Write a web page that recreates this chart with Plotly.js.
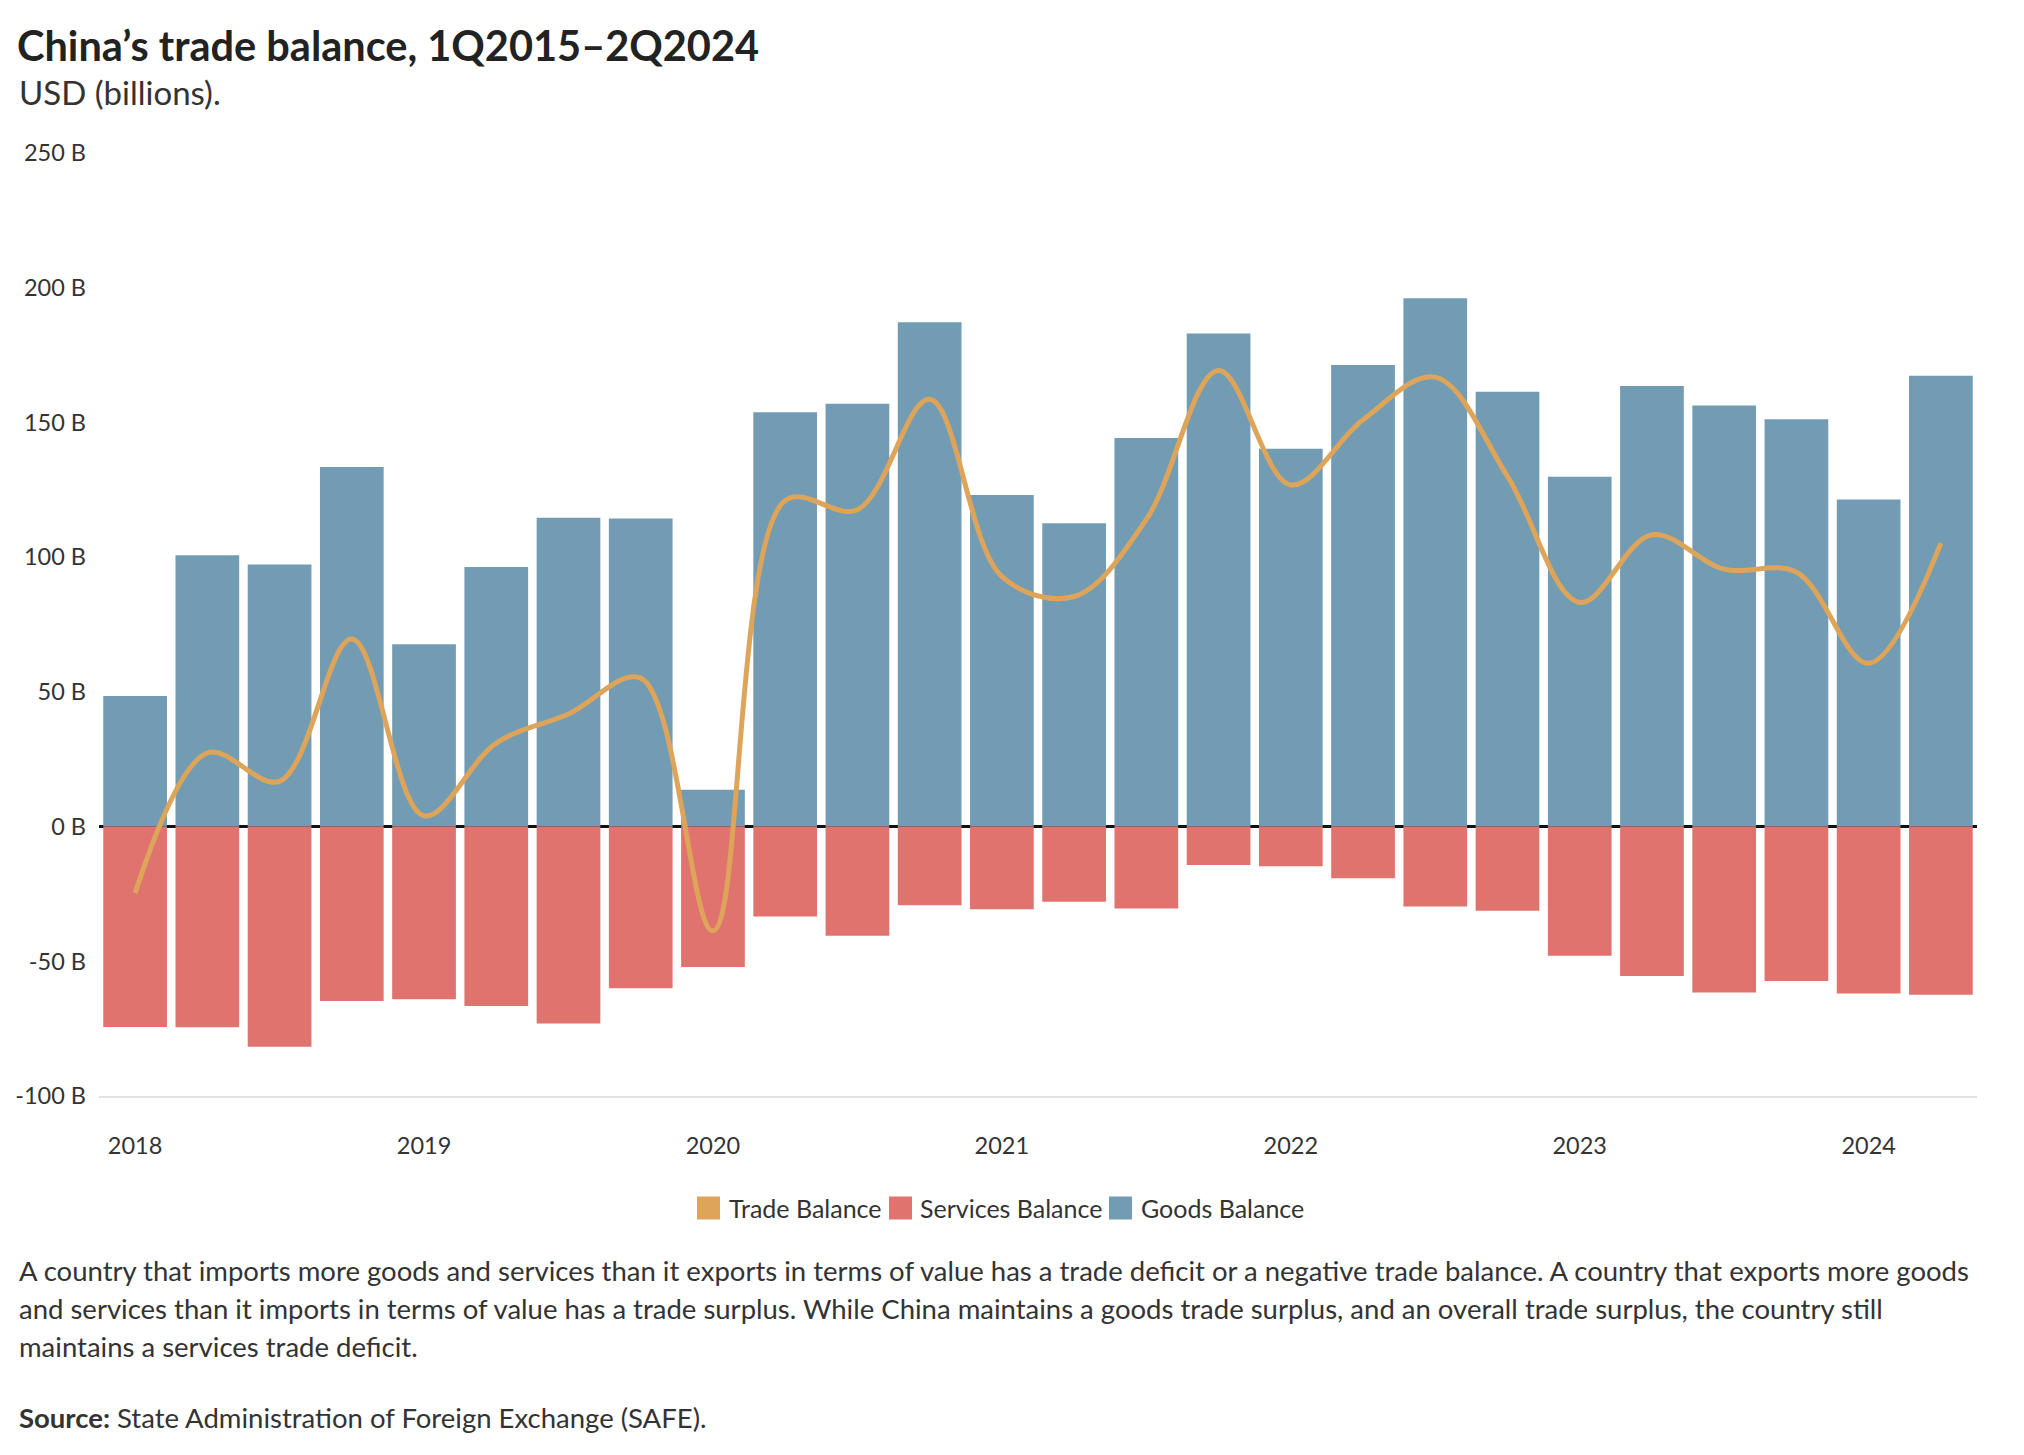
<!DOCTYPE html>
<html>
<head>
<meta charset="utf-8">
<script src="https://cdn.plot.ly/plotly-3.0.1.min.js"></script>
<style>
html,body{margin:0;padding:0;background:#fff;}
#chart{width:2024px;height:1455px;}
</style>
</head>
<body>
<div id="chart"></div>
<script>
// ---------- DATA (USD billions) ----------
const quarters = [
  'Q1 2018','Q2 2018','Q3 2018','Q4 2018',
  'Q1 2019','Q2 2019','Q3 2019','Q4 2019',
  'Q1 2020','Q2 2020','Q3 2020','Q4 2020',
  'Q1 2021','Q2 2021','Q3 2021','Q4 2021',
  'Q1 2022','Q2 2022','Q3 2022','Q4 2022',
  'Q1 2023','Q2 2023','Q3 2023','Q4 2023',
  'Q1 2024','Q2 2024'
];
const yearTickVals = ['Q1 2018','Q1 2019','Q1 2020','Q1 2021','Q1 2022','Q1 2023','Q1 2024'];
const yearTickText = ['2018','2019','2020','2021','2022','2023','2024'];
const yTickVals = [-100, -50, 0, 50, 100, 150, 200, 250];
const yTickText = ['-100 B', '-50 B', '0 B', '50 B', '100 B', '150 B', '200 B', '250 B'];

const goodsBalance = [
  48.5, 100.7, 97.3, 133.5,
  67.7, 96.3, 114.6, 114.3,
  13.7, 153.8, 156.9, 187.2,
  123.1, 112.6, 144.2, 183.0,
  140.2, 171.3, 196.1, 161.4,
  129.8, 163.5, 156.3, 151.2,
  121.4, 167.3
];
const servicesBalance = [
  -74.4, -74.5, -81.7, -64.7,
  -64.1, -66.6, -73.1, -60.0,
  -52.1, -33.4, -40.5, -29.2,
  -30.7, -27.9, -30.4, -14.3,
  -14.7, -19.2, -29.7, -31.2,
  -47.9, -55.5, -61.6, -57.3,
  -62.0, -62.4
];
const tradeBalance = [
  -24.7, 27.3, 16.8, 69.6,
  4.0, 31.0, 41.8, 55.1,
  -38.7, 121.0, 117.6, 158.6,
  92.8, 85.4, 114.0, 169.3,
  126.8, 151.0, 166.8, 130.0,
  83.2, 108.3, 95.5, 94.4,
  60.6, 105.2
];

// ---------- TEXT ----------
const titleText = 'China’s trade balance, 1Q2015–2Q2024';
const subtitleText = 'USD (billions).';
const noteLines = [
  'A country that imports more goods and services than it exports in terms of value has a trade deficit or a negative trade balance. A country that exports more goods',
  'and services than it imports in terms of value has a trade surplus. While China maintains a goods trade surplus, and an overall trade surplus, the country still',
  'maintains a services trade deficit.'
];
const sourceText = '<b>Source:</b> State Administration of Foreign Exchange (SAFE).';

// ---------- STYLE / LAYOUT ----------
const FONT = 'Lato, "Open Sans", sans-serif';
const TXT = '#333333';
const colors = {trade: '#dda45a', services: '#e0736d', goods: '#729cb3'};

const W = 2024, H = 1455;
const M = {l: 99, r: 47, t: 153, b: 359};
const PW = W - M.l - M.r, PH = H - M.t - M.b;
const px = x => (x - M.l) / PW;
const py = y => (H - M.b - y) / PH;

const goodsTrace = {
  type: 'bar', name: 'Goods Balance', x: quarters, y: goodsBalance,
  marker: {color: colors.goods}, showlegend: false, hoverinfo: 'x+y+name'
};
const servicesTrace = {
  type: 'bar', name: 'Services Balance', x: quarters, y: servicesBalance,
  marker: {color: colors.services}, showlegend: false, hoverinfo: 'x+y+name'
};
const tradeTrace = {
  type: 'scatter', mode: 'lines', name: 'Trade Balance', x: quarters, y: tradeBalance,
  line: {color: colors.trade, width: 5, shape: 'spline', smoothing: 1},
  showlegend: false, hoverinfo: 'x+y+name'
};

// custom legend (square swatches like the reference)
const legendItems = [
  {name: tradeTrace.name, color: colors.trade, sx: 697, tx: 727},
  {name: servicesTrace.name, color: colors.services, sx: 889, tx: 918},
  {name: goodsTrace.name, color: colors.goods, sx: 1109, tx: 1139}
];
const legendY = 1208, sw = 23;

const shapes = legendItems.map(it => ({
  type: 'rect', xref: 'paper', yref: 'paper',
  x0: px(it.sx), x1: px(it.sx + sw), y0: py(legendY + sw/2), y1: py(legendY - sw/2),
  fillcolor: it.color, line: {width: 0}
}));

const annotations = [];
annotations.push({
  xref: 'paper', yref: 'paper', x: px(17), y: py(92), xanchor: 'left', yanchor: 'middle',
  text: subtitleText, showarrow: false, font: {family: FONT, size: 33, color: TXT}
});
legendItems.forEach(it => annotations.push({
  xref: 'paper', yref: 'paper', x: px(it.tx), y: py(legendY), xanchor: 'left', yanchor: 'middle',
  text: it.name, showarrow: false, font: {family: FONT, size: 25, color: TXT}
}));
const noteYs = [1270, 1308, 1346];
noteLines.forEach((t, i) => annotations.push({
  xref: 'paper', yref: 'paper', x: px(17), y: py(noteYs[i]), xanchor: 'left', yanchor: 'middle',
  text: t, showarrow: false, font: {family: FONT, size: 27.5, color: TXT}
}));
annotations.push({
  xref: 'paper', yref: 'paper', x: px(17), y: py(1417), xanchor: 'left', yanchor: 'middle',
  text: sourceText, showarrow: false, font: {family: FONT, size: 27.5, color: TXT}
});

const layout = {
  width: W, height: H,
  margin: M,
  paper_bgcolor: '#ffffff', plot_bgcolor: '#ffffff',
  font: {family: FONT, color: TXT},
  title: {
    text: '<b>' + titleText + '</b>',
    xref: 'container', yref: 'container',
    x: 17 / W, xanchor: 'left', y: 1 - 46 / H, yanchor: 'middle',
    font: {family: FONT, size: 41.5, color: '#222222'}
  },
  barmode: 'relative',
  bargap: 0.118,
  xaxis: {
    type: 'category',
    tickmode: 'array', tickvals: yearTickVals, ticktext: yearTickText,
    showgrid: false, zeroline: false,
    showline: true, linecolor: '#e2e2e2', linewidth: 2,
    ticks: '', ticklabelstandoff: 28,
    tickfont: {family: FONT, size: 23.5, color: TXT},
    fixedrange: true
  },
  yaxis: {
    range: [-100, 250],
    tickmode: 'array', tickvals: yTickVals, ticktext: yTickText,
    showgrid: false,
    zeroline: true, zerolinecolor: '#111111', zerolinewidth: 2.5,
    showline: false, ticks: '', ticklabelstandoff: 12,
    tickfont: {family: FONT, size: 23.5, color: TXT},
    fixedrange: true
  },
  shapes: shapes,
  annotations: annotations,
  showlegend: false
};

Plotly.newPlot('chart', [goodsTrace, servicesTrace, tradeTrace], layout, {displayModeBar: false, staticPlot: true});
</script>
</body>
</html>
